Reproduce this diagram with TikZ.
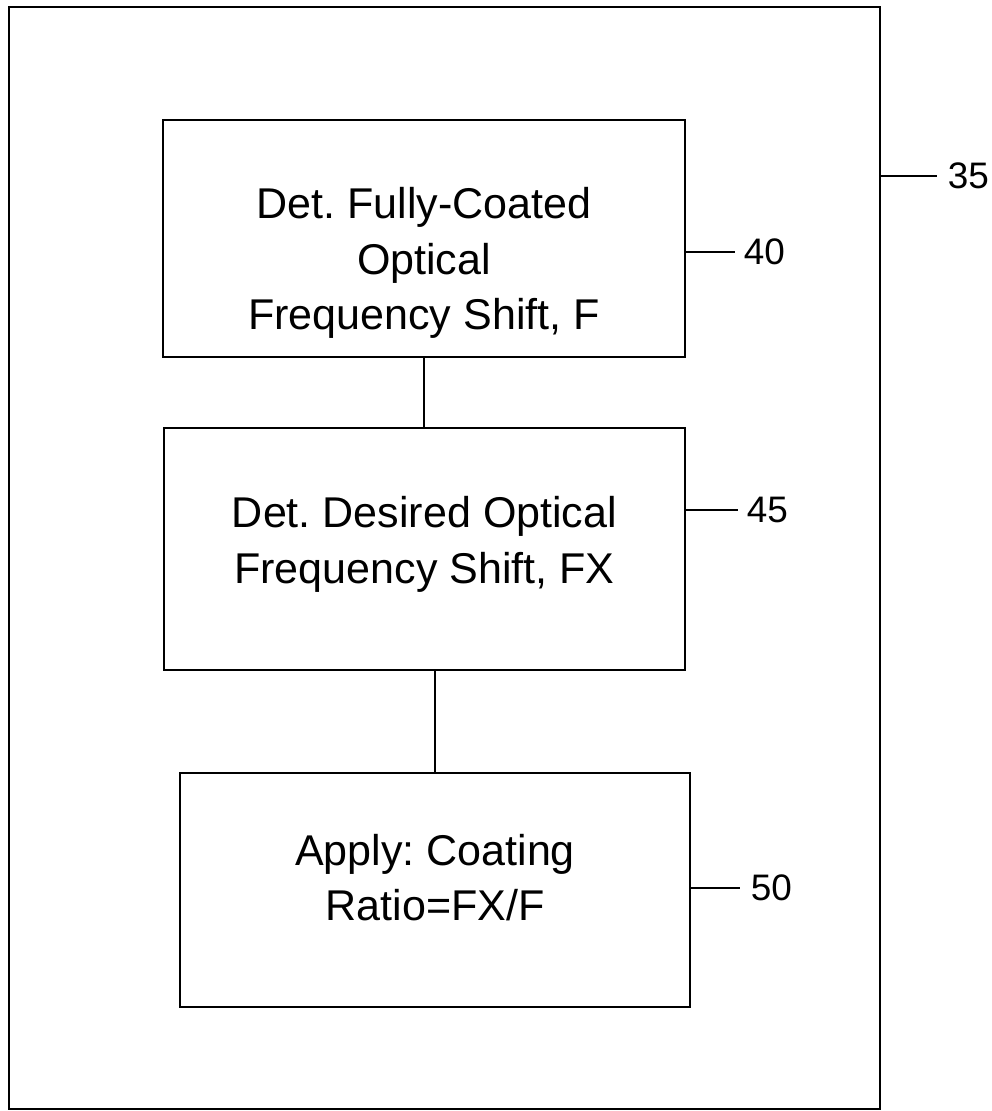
\documentclass[tikz,border=0pt]{standalone}
\usepackage{fontspec}
\setmainfont{Liberation Sans}
\usepackage{tikz}
\usetikzlibrary{positioning}
\frenchspacing

\begin{document}
\begin{tikzpicture}[x=0.02cm, y=-0.02cm, line width=1.1pt,
  stepbox/.style={draw, align=center, inner sep=0pt, line width=1.2pt, font=\fontsize{24.5}{31.5}\selectfont},
  refnum/.style={anchor=west, inner sep=0pt, font=\fontsize{21}{24}\selectfont}]
\useasboundingbox (0,0) rectangle (991,1111);
\node[draw, line width=1.4pt, minimum width=17.42cm, minimum height=22.04cm] (frame) at (444.5,558) {};
\node[stepbox, minimum width=10.44cm, minimum height=4.74cm] (full) at (424,238.5) {\rule{0pt}{45.8pt}Det. Fully-Coated\\ Optical\\ Frequency Shift, F};
\node[stepbox, minimum width=10.42cm, minimum height=4.84cm] (desired) at (424.5,549) {Det. Desired Optical\\ Frequency Shift, FX\rule[-10.5pt]{0pt}{0pt}};
\node[stepbox, minimum width=10.20cm, minimum height=4.68cm] (apply) at (435,890) {Apply: Coating\\ Ratio=FX/F\rule[-14.5pt]{0pt}{0pt}};
\draw (full.south) -- (full.south |- desired.north);
\draw (desired.south -| apply.north) -- (apply.north);
% reference numerals
\node[refnum] (n35) at (947,176) {35};
\node[refnum] (n40) at (743,252) {40};
\node[refnum] (n45) at (746,510) {45};
\node[refnum] (n50) at (750,888) {50};
\draw (frame.east |- n35.west) -- ([xshift=-2mm]n35.west);
\draw (full.east |- n40.west) -- ([xshift=-1.6mm]n40.west);
\draw (desired.east |- n45.west) -- ([xshift=-1.6mm]n45.west);
\draw (apply.east |- n50.west) -- ([xshift=-2mm]n50.west);
\end{tikzpicture}
\end{document}
